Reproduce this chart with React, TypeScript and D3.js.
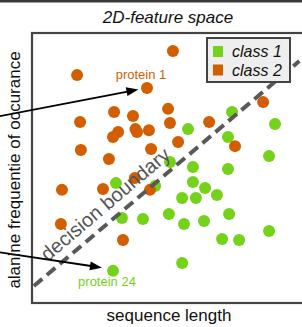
import React from 'react';
import * as d3 from 'd3';

// sequence length (x) / alanine frequency (y), both on a 0-100 scale
const class1X = [74.1, 90.0, 57.8, 72.6, 87.8, 51.1, 59.6, 72.6, 59.6, 31.1, 45.6, 64.1, 68.5, 55.6, 60.7, 33.3, 41.1, 50.7, 56.3, 63.7, 73.0, 70.4, 76.7, 87.8, 55.6, 30.0];
const class1Y = [70.7, 66.3, 64.4, 61.5, 54.4, 52.2, 50.4, 49.6, 44.8, 44.4, 43.3, 42.6, 40.0, 38.9, 38.9, 31.5, 31.1, 33.0, 29.3, 30.4, 33.0, 23.7, 23.3, 26.7, 14.8, 11.9];
const class2X = [52.2, 16.7, 42.6, 85.6, 30.4, 37.4, 50.4, 17.8, 51.1, 65.6, 38.3, 38.9, 43.3, 31.9, 30.0, 54.1, 18.1, 44.1, 75.2, 28.5, 38.1, 11.1, 26.3, 43.7, 10.7, 33.7];
const class2Y = [93.3, 84.4, 79.6, 74.4, 70.7, 69.3, 71.9, 67.0, 66.7, 67.0, 64.4, 63.3, 64.0, 63.3, 61.5, 59.6, 56.7, 57.0, 58.1, 53.3, 46.3, 41.9, 42.2, 41.9, 29.3, 23.3];

const boundaryX = [0.7, 99.0];
const boundaryY = [6.3, 89.6];

const legendLabels = ['class 1', 'class 2'];
const colors = ['#74d21b', '#d25e00'];

// annotations: label, index of the point, arrow from / to (data units)
const annotations = [
  { label: 'protein 1', cls: 1, idx: 2, fromX: -19.3, fromY: 67.8, toX: 39.4, toY: 79.1, dx: -6, dy: -9 },
  { label: 'protein 24', cls: 0, idx: 25, fromX: -15.6, fromY: 19.3, toX: 25.9, toY: 13.1, dx: -6, dy: 15 },
];

const W = 302;
const H = 327;
const font = '"Liberation Sans", Arial, Helvetica, sans-serif';

export default function App() {
  const x = d3.scaleLinear().domain([0, 100]).range([32, 302]);
  const y = d3.scaleLinear().domain([0, 100]).range([303, 33]);

  const class1 = class1X.map((v, i) => ({ x: v, y: class1Y[i] }));
  const class2 = class2X.map((v, i) => ({ x: v, y: class2Y[i] }));
  const classes = [class1, class2];

  const bx0 = x(boundaryX[0]), by0 = y(boundaryY[0]);
  const bx1 = x(boundaryX[1]), by1 = y(boundaryY[1]);
  const angle = (Math.atan2(by1 - by0, bx1 - bx0) * 180) / Math.PI;

  const line = d3.line<[number, number]>();

  return (
    <div style={{ position: 'absolute', left: 0, top: 0 }}>
      <svg width={W} height={H} style={{ display: 'block', background: '#fff' }} fontFamily={font}>
        <rect x={0} y={0} width={W} height={2.5} fill="#3a3a3a" />
        <text x={168} y={23} textAnchor="middle" fontSize={17} fontStyle="italic" fill="#111">
          2D-feature space
        </text>

        {classes.map((pts, c) => (
          <g key={c}>
            {pts.map((d, i) => (
              <circle key={i} cx={x(d.x)} cy={y(d.y)} r={6} fill={colors[c]} />
            ))}
          </g>
        ))}

        <path
          d={line([[bx0, by0], [bx1, by1]]) || ''}
          stroke="#595959"
          strokeWidth={4}
          strokeDasharray="11,6"
          fill="none"
        />
        <text
          transform={`translate(${x(5.8)},${y(15.2)}) rotate(${angle})`}
          fontSize={20}
          fill="#555"
        >
          decision boundary
        </text>

        <rect x={x(0)} y={y(100)} width={274} height={y(0) - y(100)} fill="none" stroke="#444" strokeWidth={2.2} />

        {annotations.map((a) => {
          const p = classes[a.cls][a.idx];
          const x0 = x(a.fromX), y0 = y(a.fromY);
          const x1 = x(a.toX), y1 = y(a.toY);
          const len = Math.hypot(x1 - x0, y1 - y0);
          const ux = (x1 - x0) / len, uy = (y1 - y0) / len;
          const hl = 12, hw = 4.5;
          const bx = x1 - ux * hl, by = y1 - uy * hl;
          const head = `${x1},${y1} ${bx - uy * hw},${by + ux * hw} ${bx + uy * hw},${by - ux * hw}`;
          return (
            <g key={a.label}>
              <text x={x(p.x) + a.dx} y={y(p.y) + a.dy} textAnchor="middle" fontSize={13} fill={colors[a.cls]}>
                {a.label}
              </text>
              <line x1={x0} y1={y0} x2={bx + ux} y2={by + uy} stroke="#000" strokeWidth={1.8} />
              <polygon points={head} fill="#000" />
            </g>
          );
        })}

        <g>
          <rect x={207} y={38} width={83} height={44} fill="#eeeeee" stroke="#444" strokeWidth={2} />
          {legendLabels.map((l, i) => (
            <g key={l}>
              <rect x={213} y={46 + i * 18.5} width={10} height={11} fill={colors[i]} />
              <text x={232} y={57 + i * 18.5} fontSize={16} fontStyle="italic" fill="#111">
                {l}
              </text>
            </g>
          ))}
        </g>

        <text x={169} y={321} textAnchor="middle" fontSize={17} fill="#111">
          sequence length
        </text>
        <text transform="translate(20,170) rotate(-90)" textAnchor="middle" fontSize={17} fill="#111">
          alanine frequentie of occurance
        </text>
      </svg>
    </div>
  );
}
